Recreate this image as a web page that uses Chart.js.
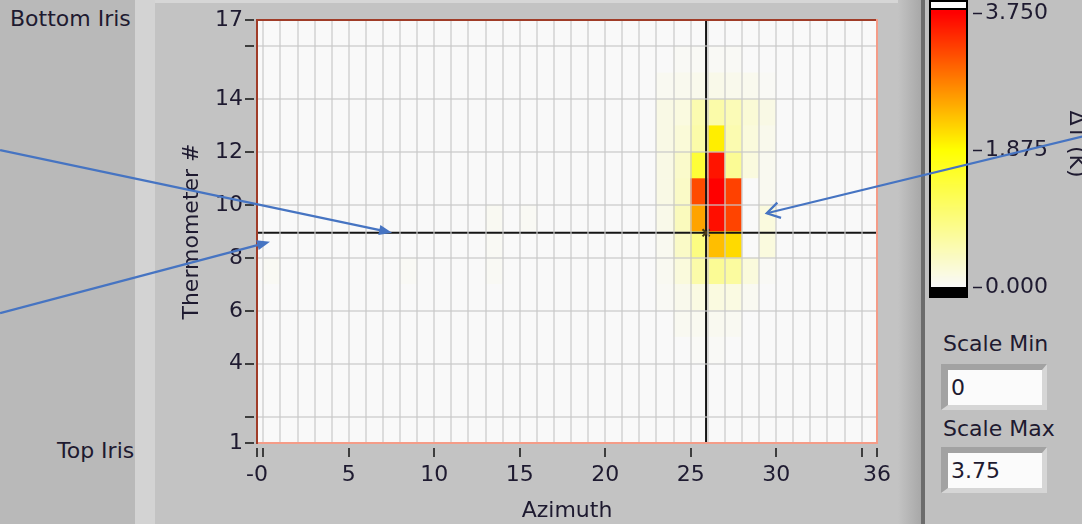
<!DOCTYPE html>
<html>
<head>
<meta charset="utf-8">
<title>Thermometer intensity graph</title>
<script src="https://cdn.jsdelivr.net/npm/chart.js@4.4.1/dist/chart.umd.min.js"></script>
<style>
  body { margin: 0; }
  #page { position: relative; width: 1082px; height: 524px; overflow: hidden; background: #c3c3c3;
          font-family: "DejaVu Sans", sans-serif; color: #1e1a30; }
  .bg { position: absolute; top: 0; height: 524px; }
  .lbl { position: absolute; font-size: 22px; line-height: 26px; white-space: nowrap; }
  .box { position: absolute; left: 941px; width: 106px; height: 46px; box-sizing: border-box;
         border-style: solid; border-width: 6px 5px 5px 7px;
         border-color: #a2a2a2 #d6d6d6 #d6d6d6 #a2a2a2;
         background: #fbfbfb; font-size: 22px; line-height: 35px; padding-left: 3px; }
  #chart { position: absolute; left: 0; top: 0; z-index: 2; }
</style>
</head>
<body>
<div id="page">
  <div class="bg" style="left:0;width:135px;background:#b9b9b9"></div>
  <div class="bg" style="left:135px;width:20px;background:#d3d3d3"></div>
  <div class="bg" style="left:155px;width:743px;background:#c3c3c3;border-top:3px solid #d6d6d6;box-sizing:border-box"></div>
  <div class="bg" style="left:898px;width:23px;background:linear-gradient(to right,#c3c3c3,#a8a8a8)"></div>
  <div class="bg" style="left:921px;width:4px;background:#6c6c6c"></div>
  <div class="bg" style="left:925px;width:157px;background:#c0c0c0"></div>
  <div class="lbl" style="left:10px;top:6px">Bottom Iris</div>
  <div class="lbl" style="left:57px;top:438px">Top Iris</div>
  <div class="lbl" style="left:943px;top:331px">Scale Min</div>
  <div class="box" id="minBox" style="top:364px"></div>
  <div class="lbl" style="left:943px;top:416px">Scale Max</div>
  <div class="box" id="maxBox" style="top:447px"></div>
  <canvas id="chart" width="1082" height="524"></canvas>
</div>
<script>
const azimuths = [0, 1, 2, 3, 4, 5, 6, 7, 8, 9, 10, 11, 12, 13, 14, 15, 16, 17,
  18, 19, 20, 21, 22, 23, 24, 25, 26, 27, 28, 29, 30, 31, 32, 33, 34, 35];
const thermometers = [1, 2, 3, 4, 5, 6, 7, 8, 9, 10, 11, 12, 13, 14, 15, 16];

// dT (K) per thermometer (rows, 1..16) and azimuth (columns, 0..35)
const dT = [
  [0,0,0,0,0,0,0,0,0,0, 0,0,0,0,0,0,0,0,0,0, 0,0,0,0,0,0,0,0,0,0, 0,0,0,0,0,0],
  [0,0,0,0,0,0,0,0,0,0, 0,0,0,0,0,0,0,0,0,0, 0,0,0,0,0,0,0,0,0,0, 0,0,0,0,0,0],
  [0,0,0,0,0,0,0,0,0,0, 0,0,0,0,0,0,0,0,0,0, 0,0,0,0,0,0,0,0,0,0, 0,0,0,0,0,0],
  [0,0,0,0,0,0,0,0,0,0, 0,0,0,0,0,0,0,0,0,0, 0,0,0,0,0,0.02,0.02,0,0,0, 0,0,0,0,0,0],
  [0,0,0,0,0,0,0,0,0,0, 0,0,0,0,0,0,0,0,0,0, 0,0,0,0,0.06,0.07,0.07,0.05,0,0, 0,0,0,0,0,0],
  [0,0,0,0,0,0,0,0,0,0, 0,0,0,0,0,0,0,0,0,0, 0,0,0,0.04,0.1,0.17,0.19,0.17,0.06,0, 0,0,0,0,0,0],
  [0.04,0,0,0,0,0,0,0,0.03,0, 0,0,0,0.04,0,0,0,0,0,0, 0,0,0,0.06,0.22,0.6,0.75,0.68,0.22,0.03, 0,0,0,0,0,0],
  [0,0,0,0,0,0,0,0,0,0, 0,0,0,0.04,0,0,0,0,0,0, 0,0,0,0.07,0.38,0.9,2.35,2.15,0,0.2, 0,0,0,0,0,0],
  [0,0,0,0,0,0,0,0,0,0, 0,0,0,0.05,0,0.04,0,0,0,0, 0,0,0,0.12,0.45,2.55,3.65,3.25,0,0.2, 0,0,0,0,0,0],
  [0,0,0,0,0,0,0,0,0,0, 0,0,0,0,0,0,0,0,0,0, 0,0,0,0.15,0.38,3.2,3.75,3.27,0,0.07, 0,0,0,0,0,0],
  [0,0,0,0,0,0,0,0,0,0, 0,0,0,0,0,0,0,0,0,0, 0,0,0,0.15,0.35,1.45,3.6,0.75,0.2,0.07, 0,0,0,0,0,0],
  [0,0,0,0,0,0,0,0,0,0, 0,0,0,0,0,0,0,0,0,0, 0,0,0,0.15,0.25,0.6,2.0,0.55,0.22,0.1, 0,0,0,0,0,0],
  [0,0,0,0,0,0,0,0,0,0, 0,0,0,0,0,0,0,0,0,0, 0,0,0,0.15,0.19,0.55,0.6,0.5,0.26,0.15, 0,0,0,0,0,0],
  [0,0,0,0,0,0,0,0,0,0, 0,0,0,0,0,0,0,0,0,0, 0,0,0,0.06,0.08,0.1,0.12,0.1,0.08,0.03, 0,0,0,0,0,0],
  [0,0,0,0,0,0,0,0,0,0, 0,0,0,0,0,0,0,0,0,0, 0,0,0,0,0.03,0.03,0.03,0.03,0,0, 0,0,0,0,0,0],
  [0,0,0,0,0,0,0,0,0,0, 0,0,0,0,0,0,0,0,0,0, 0,0,0,0,0,0,0,0,0,0, 0,0,0,0,0,0]
];

const scaleMin = 0;
const scaleMax = 3.75;
const scaleTicks = [0, 1.875, 3.75];

const cursorAzimuth = 25.9;
const cursorThermometer = 8.95;

const xMin = -0.37, xMax = 35.9;
const yMin = 1, yMax = 17;
const xLabelAt = [xMin, 5, 10, 15, 20, 25, 30, xMax];
const xTickLabels = ["-0", "5", "10", "15", "20", "25", "30", "36"];
const yTicks = [1, 2, 4, 6, 8, 10, 12, 14, 16, 17];
const yTickLabels = ["1", "", "4", "6", "8", "10", "12", "14", "", "17"];

// annotation arrows, in azimuth / thermometer units
const arrows = [
  { from: [-15.4, 12.08], to: [7.53, 8.955], head: "solid" },
  { from: [-15.4, 5.91], to: [0.39, 8.61], head: "solid" },
  { from: [47.9, 12.59], to: [29.45, 9.69], head: "open" }
];

const ink = "#1e1a30";
const gridColor = "rgba(200,200,200,0.6)";

function heatColor(v) {
  const mid = (scaleMin + scaleMax) / 2;
  const t = Math.max(scaleMin, Math.min(scaleMax, v));
  let r, g, b;
  if (t <= mid) {
    const f = (t - scaleMin) / (mid - scaleMin);
    r = 249 + 6 * f; g = r; b = 249 * (1 - f);
  } else {
    const f = (t - mid) / (scaleMax - mid);
    r = 255; g = 255 * (1 - f); b = 0;
  }
  return `rgb(${Math.round(r)},${Math.round(g)},${Math.round(b)})`;
}

document.getElementById("minBox").textContent = String(scaleMin);
document.getElementById("maxBox").textContent = String(scaleMax);

Chart.defaults.font.family = "'DejaVu Sans', sans-serif";
Chart.defaults.font.size = 22;
Chart.defaults.color = ink;

const cellWidth = ctx => {
  const s = ctx.chart.scales.x;
  return s.getPixelForValue(1) - s.getPixelForValue(0);
};

const cellSets = thermometers.map((t, r) => ({
  type: "bar",
  order: 2,
  data: azimuths.map(a => ({ x: a + 0.5, y: [t, t + 1] })),
  backgroundColor: dT[r].map(heatColor),
  borderWidth: 0,
  grouped: false,
  barThickness: cellWidth
}));

const cursorSets = [
  {
    type: "line", order: 1,
    data: [{ x: xMin, y: cursorThermometer }, { x: xMax, y: cursorThermometer }],
    borderColor: "#151515", borderWidth: 2, pointRadius: 0
  },
  {
    type: "line", order: 1,
    data: [{ x: cursorAzimuth, y: yMin }, { x: cursorAzimuth, y: yMax }],
    borderColor: "#151515", borderWidth: 2, pointRadius: 0
  },
  {
    type: "scatter", order: 0,
    data: [{ x: cursorAzimuth, y: cursorThermometer }],
    pointStyle: "crossRot", pointRadius: 5, borderColor: "#4a3a14", borderWidth: 2
  }
];

const plotFrame = {
  id: "plotFrame",
  beforeDatasetsDraw(chart) {
    const { ctx, chartArea: a } = chart;
    ctx.save();
    ctx.fillStyle = heatColor(scaleMin);
    ctx.fillRect(a.left, a.top, a.right - a.left, a.bottom - a.top);
    ctx.restore();
  },
  afterDraw(chart) {
    const { ctx, chartArea: a } = chart;
    ctx.save();
    ctx.lineWidth = 2;
    ctx.strokeStyle = "#a03c28";
    ctx.beginPath(); ctx.moveTo(a.left - 1, a.top); ctx.lineTo(a.right, a.top); ctx.stroke();
    ctx.strokeStyle = "#f59c88";
    ctx.beginPath(); ctx.moveTo(a.right, a.top - 1); ctx.lineTo(a.right, a.bottom + 1); ctx.stroke();
    ctx.restore();
  }
};

const colorBar = {
  id: "colorBar",
  afterDraw(chart) {
    const ctx = chart.ctx;
    const left = 929, right = 968, yLow = 287, yHigh = 13;
    const yOf = v => yLow - (v - scaleMin) / (scaleMax - scaleMin) * (yLow - yHigh);
    ctx.save();
    ctx.fillStyle = "#000";
    ctx.fillRect(left, 0, right - left, 298);
    ctx.fillStyle = "#fff";
    ctx.fillRect(left + 2, 2, right - left - 4, 6);
    for (let y = 10; y < yLow; y++) {
      const v = scaleMin + (yLow - y - 0.5) / (yLow - yHigh) * (scaleMax - scaleMin);
      ctx.fillStyle = heatColor(v);
      ctx.fillRect(left + 2, y, right - left - 4, 1);
    }
    ctx.strokeStyle = ink;
    ctx.fillStyle = ink;
    ctx.lineWidth = 1.5;
    ctx.font = "22px 'DejaVu Sans'";
    ctx.textBaseline = "middle";
    scaleTicks.forEach(v => {
      const y = Math.round(yOf(v)) + 0.5;
      ctx.beginPath(); ctx.moveTo(973, y); ctx.lineTo(982, y); ctx.stroke();
      ctx.fillText(v.toFixed(3), 985, y);
    });
    // colour scale title, cut off by the window edge
    ctx.translate(1070, 144);
    ctx.rotate(Math.PI / 2);
    ctx.textAlign = "center";
    ctx.textBaseline = "alphabetic";
    ctx.fillText("ΔT (K)", 0, 0);
    ctx.restore();
  }
};

const arrowNotes = {
  id: "arrowNotes",
  afterDraw(chart) {
    const { ctx, scales: { x, y } } = chart;
    ctx.save();
    ctx.strokeStyle = "#4674c2";
    ctx.fillStyle = "#4674c2";
    ctx.lineWidth = 2.25;
    arrows.forEach(a => {
      const x0 = x.getPixelForValue(a.from[0]), y0 = y.getPixelForValue(a.from[1]);
      const x1 = x.getPixelForValue(a.to[0]), y1 = y.getPixelForValue(a.to[1]);
      const ang = Math.atan2(y1 - y0, x1 - x0);
      const c = Math.cos(ang), s = Math.sin(ang);
      const back = a.head === "open" ? 0 : 10;
      ctx.beginPath();
      ctx.moveTo(x0, y0);
      ctx.lineTo(x1 - back * c, y1 - back * s);
      ctx.stroke();
      if (a.head === "open") {
        ctx.beginPath();
        ctx.moveTo(x1 - 15 * Math.cos(ang - 0.55), y1 - 15 * Math.sin(ang - 0.55));
        ctx.lineTo(x1, y1);
        ctx.lineTo(x1 - 15 * Math.cos(ang + 0.55), y1 - 15 * Math.sin(ang + 0.55));
        ctx.stroke();
      } else {
        ctx.beginPath();
        ctx.moveTo(x1, y1);
        ctx.lineTo(x1 - 13 * c + 5 * s, y1 - 13 * s - 5 * c);
        ctx.lineTo(x1 - 13 * c - 5 * s, y1 - 13 * s + 5 * c);
        ctx.closePath();
        ctx.fill();
      }
    });
    ctx.restore();
  }
};

new Chart(document.getElementById("chart"), {
  type: "bar",
  data: { datasets: [...cursorSets, ...cellSets] },
  options: {
    responsive: false,
    animation: false,
    events: [],
    layout: { padding: { left: 177, right: 205, top: 20, bottom: 0 } },
    plugins: { legend: { display: false }, tooltip: { enabled: false } },
    scales: {
      x: {
        type: "linear",
        min: xMin,
        max: xMax,
        bounds: "data",
        offset: false,
        afterBuildTicks: s => { s.ticks = [xMin, ...azimuths, xMax].map(v => ({ value: v })); },
        afterFit: s => { s.height = 81; },
        ticks: {
          autoSkip: false,
          maxRotation: 0,
          padding: 5,
          callback: v => {
            const i = xLabelAt.indexOf(v);
            return i >= 0 ? xTickLabels[i] : "";
          }
        },
        grid: {
          z: 1,
          offset: false,
          lineWidth: 2,
          color: ctx => Number.isInteger(ctx.tick.value) ? gridColor : "transparent",
          tickLength: 14,
          tickWidth: 1.5,
          tickBorderDash: [9, 4],
          tickBorderDashOffset: 9,
          tickColor: ctx => {
            const v = ctx.tick.value;
            return v === xMin || v === xMax || v % 5 === 0 ? "#111" : "transparent";
          }
        },
        border: { z: 1, color: "#f59c88", width: 2 },
        title: { display: true, text: "Azimuth", padding: 0 }
      },
      y: {
        type: "linear",
        min: yMin,
        max: yMax,
        bounds: "data",
        beginAtZero: false,
        afterBuildTicks: s => { s.ticks = yTicks.map(v => ({ value: v })); },
        afterFit: s => { s.width = 80; },
        ticks: {
          autoSkip: false,
          padding: 2,
          callback: v => {
            const i = yTicks.indexOf(v);
            return i >= 0 ? yTickLabels[i] : "";
          }
        },
        grid: {
          z: 1,
          lineWidth: 2,
          color: ctx => (ctx.tick.value > yMin && ctx.tick.value < yMax) ? gridColor : "transparent",
          tickLength: 12,
          tickWidth: 1.5,
          tickBorderDash: [9, 50],
          tickColor: "#111"
        },
        border: { z: 1, color: "#a03c28", width: 2 },
        title: { display: true, text: "Thermometer #", padding: { top: 2, bottom: 0 } }
      }
    }
  },
  plugins: [plotFrame, colorBar, arrowNotes]
});
</script>
</body>
</html>
